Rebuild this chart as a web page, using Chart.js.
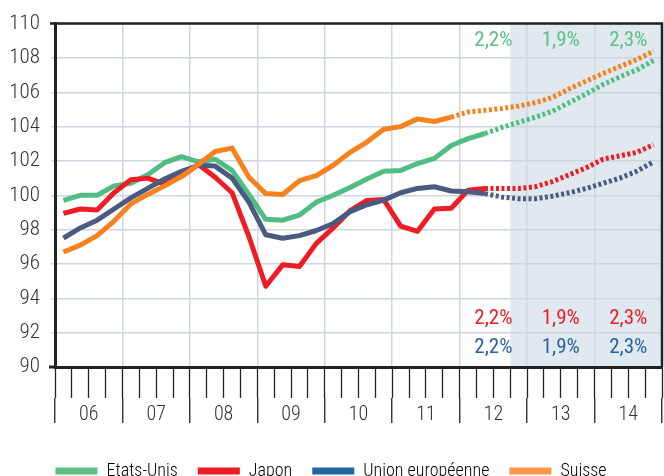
<!DOCTYPE html>
<html lang="fr">
<head>
<meta charset="utf-8">
<script src="https://cdn.jsdelivr.net/npm/chart.js@4.4.1/dist/chart.umd.min.js"></script>
<style>
  html, body { margin: 0; padding: 0; overflow: hidden; background: #fff; }
  #wrap { width: 664px; height: 490px; }
</style>
</head>
<body>
<div id="wrap"><canvas id="chart"></canvas></div>
<script>
const years = ['06', '07', '08', '09', '10', '11', '12', '13', '14'];
const quarters = years.flatMap(y => ['T1', 'T2', 'T3', 'T4'].map(q => q + ' ' + y));

// indice, valeurs trimestrielles
const etatsUnis = [99.7, 100.0, 100.0, 100.55, 100.7, 101.2, 101.9, 102.25, 101.95, 102.1, 101.45, 100.05,
  98.6, 98.55, 98.85, 99.6, 100.0, 100.45, 100.95, 101.4, 101.45, 101.85, 102.15, 102.9,
  103.3, 103.6, 103.95, 104.25, 104.55, 104.9, 105.4, 105.9, 106.45, 106.9, 107.3, 107.85];
const japon = [98.95, 99.2, 99.15, 100.15, 100.9, 101.0, 100.65, 101.1, 101.8, 101.05, 100.15, 97.6,
  94.7, 95.95, 95.85, 97.2, 98.1, 99.1, 99.7, 99.75, 98.2, 97.9, 99.2, 99.25,
  100.3, 100.4, 100.4, 100.4, 100.5, 100.8, 101.2, 101.6, 102.1, 102.3, 102.5, 102.95];
const unionEuropeenne = [97.5, 98.1, 98.55, 99.2, 99.85, 100.4, 100.95, 101.4, 101.75, 101.7, 101.0, 99.6,
  97.7, 97.5, 97.65, 97.95, 98.35, 99.05, 99.45, 99.72, 100.15, 100.4, 100.5, 100.25,
  100.2, 100.1, 99.9, 99.8, 99.8, 99.95, 100.15, 100.4, 100.7, 101.0, 101.4, 101.95];
const suisse = [96.7, 97.1, 97.65, 98.5, 99.5, 100.05, 100.55, 101.1, 101.8, 102.55, 102.75, 101.05,
  100.1, 100.05, 100.85, 101.15, 101.75, 102.5, 103.1, 103.85, 104.0, 104.45, 104.3, 104.55,
  104.85, 104.95, 105.05, 105.2, 105.4, 105.7, 106.2, 106.65, 107.1, 107.5, 107.9, 108.4];

// premier trimestre de la prevision (pointilles)
const forecastFrom = [25, 25, 25, 23];
const shadeFrom = 'T4 12';

const growthYears = ['12', '13', '14'];
const growthUS = ['2,2%', '1,9%', '2,3%'];
const growthJapon = ['2,2%', '1,9%', '2,3%'];
const growthUE = ['2,2%', '1,9%', '2,3%'];

const FONT = '"Roboto Condensed", "Liberation Sans Narrow", "DejaVu Sans Condensed", sans-serif';
const gridColor = '#cdd6de';
const axisColor = '#222';

const series = [
  { label: 'Etats-Unis', data: etatsUnis, color: '#4fbd84', legend: '#5cbf83', order: 4 },
  { label: 'Japon', data: japon, color: '#ee1d25', legend: '#ee1d25', order: 3 },
  { label: 'Union européenne', data: unionEuropeenne, color: '#4b5a81', legend: '#2166a3', order: 2 },
  { label: 'Suisse', data: suisse, color: '#f6821f', legend: '#f7974a', order: 1 }
];

const growthRows = [
  { values: growthUS, color: '#5cbf83', at: 109.0 },
  { values: growthJapon, color: '#ee1d25', at: 92.8 },
  { values: growthUE, color: '#2a62a0', at: 91.15 }
];

const forecastShade = {
  id: 'forecastShade',
  beforeDraw(chart) {
    const { ctx, chartArea: a, scales: { x } } = chart;
    const step = x.getPixelForValue(1) - x.getPixelForValue(0);
    const left = x.getPixelForValue(quarters.indexOf(shadeFrom)) - step / 2;
    ctx.save();
    ctx.fillStyle = '#e1e9f0';
    ctx.fillRect(left, a.top, a.right - left, a.bottom - a.top);
    ctx.restore();
  }
};

const growthText = {
  id: 'growthText',
  afterDatasetsDraw(chart) {
    const { ctx, scales: { x2, y } } = chart;
    ctx.save();
    ctx.font = '21px ' + FONT;
    ctx.textAlign = 'center';
    ctx.textBaseline = 'middle';
    growthRows.forEach(row => {
      ctx.fillStyle = row.color;
      row.values.forEach((t, i) => {
        ctx.fillText(t, x2.getPixelForValue(years.indexOf(growthYears[i])), y.getPixelForValue(row.at));
      });
    });
    ctx.restore();
  }
};

// cadre : bord haut, bord droit, petit depassement de l'axe bas
const frame = {
  id: 'frame',
  afterDraw(chart) {
    const { ctx, chartArea: a } = chart;
    ctx.save();
    ctx.strokeStyle = axisColor;
    ctx.lineWidth = 2.5;
    ctx.beginPath();
    ctx.moveTo(a.left - 5, a.top);
    ctx.lineTo(a.right, a.top);
    ctx.lineTo(a.right, a.bottom);
    ctx.stroke();
    ctx.lineWidth = 3;
    ctx.beginPath();
    ctx.moveTo(a.left - 6, a.bottom);
    ctx.lineTo(a.left, a.bottom);
    ctx.stroke();
    ctx.restore();
  }
};

new Chart('chart', {
  type: 'line',
  data: {
    labels: quarters,
    datasets: series.map((s, k) => ({
      label: s.label,
      data: s.data,
      order: s.order,
      borderColor: s.color,
      backgroundColor: s.color,
      borderWidth: 5,
      borderJoinStyle: 'round',
      pointRadius: 0,
      tension: 0,
      segment: {
        borderDash: ctx => ctx.p0DataIndex >= forecastFrom[k] ? [3, 2.5] : undefined
      }
    }))
  },
  options: {
    responsive: true,
    maintainAspectRatio: false,
    animation: false,
    layout: { padding: { top: 16, right: 2, left: 0, bottom: 0 } },
    plugins: {
      tooltip: { enabled: false },
      legend: {
        position: 'bottom',
        labels: {
          boxWidth: 42,
          boxHeight: 7,
          padding: 20,
          color: '#333',
          font: { size: 18, weight: 300, family: FONT },
          generateLabels: () => series.map((s, i) => ({
            text: s.label,
            fillStyle: s.legend,
            strokeStyle: s.legend,
            lineWidth: 0,
            hidden: false,
            datasetIndex: i
          }))
        }
      }
    },
    scales: {
      x: {
        type: 'category',
        offset: true,
        weight: 0,
        ticks: { display: false },
        grid: { offset: true, drawOnChartArea: false, tickLength: 31, tickColor: axisColor, tickWidth: 1.3 },
        border: { color: axisColor, width: 3 },
        afterFit: s => { s.height = 31; }
      },
      x2: {
        type: 'category',
        labels: years,
        position: 'bottom',
        offset: true,
        weight: 1,
        ticks: { color: '#333', font: { size: 20, weight: 300, family: FONT }, padding: -20, maxRotation: 0, autoSkip: false },
        grid: { offset: true, color: gridColor, lineWidth: 1.5, tickLength: 25, tickColor: axisColor, tickWidth: 1.3 },
        border: { display: false },
        afterFit: s => { s.height = 44; }
      },
      y: {
        min: 90,
        max: 110,
        ticks: { stepSize: 2, color: '#333', font: { size: 21, weight: 300, family: FONT }, padding: 11 },
        grid: { color: gridColor, lineWidth: 1.5, tickLength: 4 },
        border: { color: axisColor, width: 3 },
        afterFit: s => { s.width = 55; }
      }
    }
  },
  plugins: [forecastShade, growthText, frame]
});
</script>
</body>
</html>
